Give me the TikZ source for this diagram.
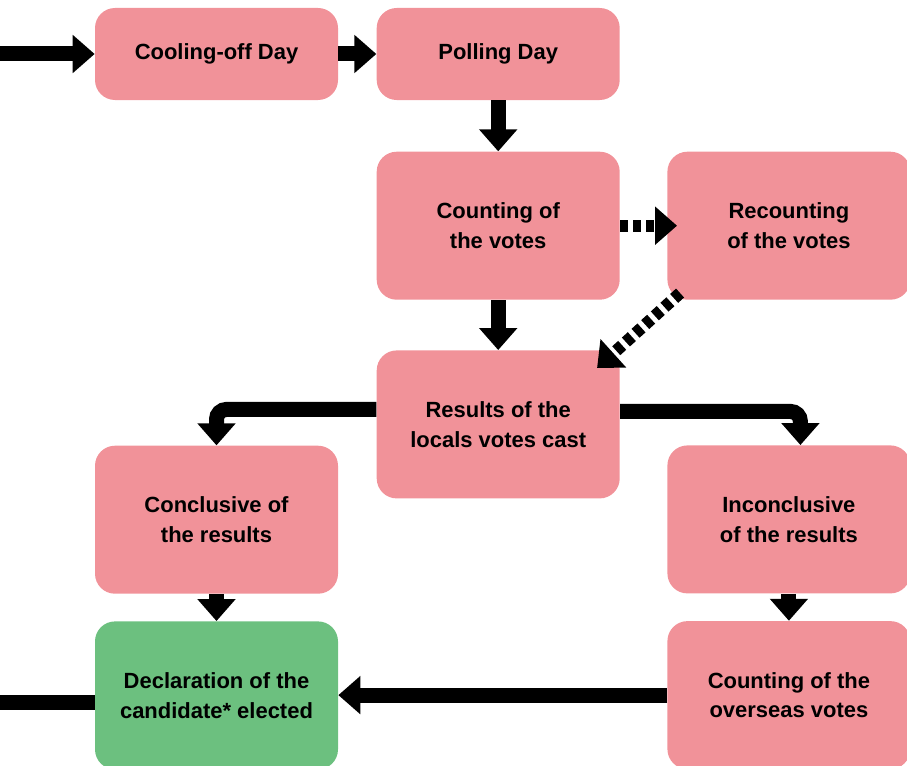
\documentclass[tikz,border=0pt]{standalone}
\usepackage{fontspec}
\setmainfont{Liberation Sans}
\usetikzlibrary{positioning,arrows.meta}
\definecolor{pinkbox}{RGB}{241,146,153}
\definecolor{greenbox}{RGB}{108,192,127}
\tikzset{
    box/.style={rounded corners=0.4cm,fill=pinkbox,minimum width=4.86cm,minimum height=1.84cm,
                inner sep=0pt,align=center,font=\fontsize{12.5}{17}\selectfont\bfseries},
    tallbox/.style={box,minimum height=2.96cm},
    arr/.style={line width=0.3cm,-{Triangle[width=0.74cm,length=0.44cm]}},
    dots/.style={line width=0.24cm,dash pattern=on 0.16cm off 0.1cm},
    plain/.style={line width=0.3cm}
}
\begin{document}
\begin{tikzpicture}
                    \useasboundingbox (0,0) rectangle (18.14,-15.3);
                    \node[box] (cool) at (4.33,-1.08) {Cooling-off Day};
                    \node[box,right=0.76cm of cool] (poll) {Polling Day};
                    \node[tallbox,below=1.02cm of poll] (count) {Counting of\\the votes};
                    \node[tallbox,right=0.94cm of count] (recount) {Recounting\\of the votes};
                    \node[tallbox,below=1.0cm of count] (results) {Results of the\\locals votes cast};
                    \node[tallbox,below=6.9cm of cool] (concl) {Conclusive of\\the results};
                    \node[tallbox,below=2.9cm of recount] (incon) {Inconclusive\\of the results};
                    \node[tallbox,fill=greenbox,below=0.54cm of concl] (decl) {Declaration of the\\candidate* elected};
                    \node[tallbox,below=0.54cm of incon] (over) {Counting of the\\overseas votes};
                    \coordinate[left=1.9cm of cool.west] (in);
                    \coordinate[left=1.9cm of decl.west,yshift=-0.14cm] (out);
                    \draw[arr] (in) -- (cool);
                    \draw[arr] (cool) -- (poll);
                    \draw[arr] (poll) -- (count);
                    \draw[arr,dots,shorten >=-0.2cm] (count) -- (recount);
                    \draw[arr,dots] ([shift={(0.26cm,0.14cm)}]recount.south west) -- ([shift={(-0.46cm,-0.36cm)}]results.north east);
                    \draw[arr] (count) -- (results);
                    \draw[arr,rounded corners=0.2cm] ([yshift=0.3cm]results.west) -| (concl);
                    \draw[arr,rounded corners=0.2cm] ([yshift=0.26cm]results.east) -| ([xshift=0.23cm]incon.north);
                    \draw[arr] (concl) -- (decl);
                    \draw[arr] (incon) -- (over);
                    \draw[arr] (over.west) -- (decl.east |- over.west);
                    \draw[plain] (decl.west |- out) -- (out);
                \end{tikzpicture}
\end{document}
